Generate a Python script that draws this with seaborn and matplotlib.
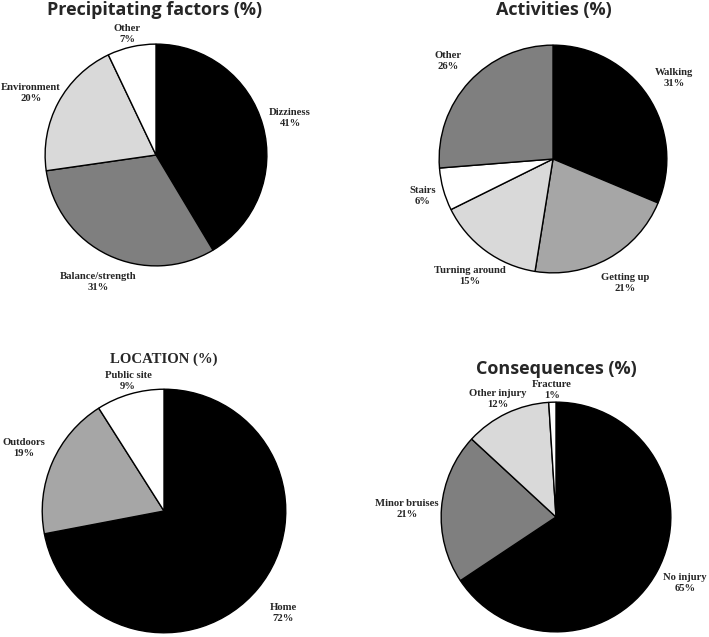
import matplotlib
matplotlib.use("Agg")
import matplotlib.pyplot as plt
import seaborn as sns

sns.set_theme(style="white")
plt.rcParams['font.family'] = ['Liberation Serif', 'DejaVu Sans']

W, H = 709, 637

# ---- data ----
p1_title = "Precipitating factors (%)"
p1_labels = ["Dizziness", "Balance/strength", "Environment", "Other"]
p1_values = [41, 31, 20, 7]

p2_title = "Activities (%)"
p2_labels = ["Walking", "Getting up", "Turning around", "Stairs", "Other"]
p2_values = [31, 21, 15, 6, 26]

p3_title = "LOCATION (%)"
p3_labels = ["Home", "Outdoors", "Public site"]
p3_values = [72, 19, 9]

p4_title = "Consequences (%)"
p4_labels = ["No injury", "Minor bruises", "Other injury", "Fracture"]
p4_values = [65, 21, 12, 1]

# ---- styling / layout ----
BLACK, DGRAY, MGRAY, LGRAY, WHITE = "#000000", "#7f7f7f", "#a6a6a6", "#d9d9d9", "#ffffff"

panels = [
    dict(title=p1_title, labels=p1_labels, values=p1_values,
         colors=[BLACK, DGRAY, LGRAY, WHITE], center=(156, 155), r=112,
         title_pos=(155, 15), title_font="sans",
         label_pos=[(290, 118), (98, 282), (31, 93), (127, 34)]),
    dict(title=p2_title, labels=p2_labels, values=p2_values,
         colors=[BLACK, MGRAY, LGRAY, WHITE, DGRAY], center=(553, 159), r=115,
         title_pos=(554, 15), title_font="sans",
         label_pos=[(674, 78), (625, 283), (470, 276), (423, 196), (448, 61)]),
    dict(title=p3_title, labels=p3_labels, values=p3_values,
         colors=[BLACK, MGRAY, WHITE], center=(164, 511), r=123,
         title_pos=(164, 363), title_font="serif",
         label_pos=[(283, 613), (24, 448), (128, 381)]),
    dict(title=p4_title, labels=p4_labels, values=p4_values,
         colors=[BLACK, DGRAY, LGRAY, WHITE], center=(556, 517), r=116,
         title_pos=(556, 374), title_font="sans",
         label_pos=[(685, 583), (407, 509), (498, 399), (552, 390)]),
]

fig = plt.figure(figsize=(W / 100, H / 100), dpi=100)
fig.patch.set_facecolor("white")

def fx(x):
    return x / W

def fy(y):
    return 1 - y / H

for p in panels:
    cx, cy = p["center"]
    r = p["r"]
    ax = fig.add_axes([(cx - r) / W, 1 - (cy + r) / H, 2 * r / W, 2 * r / H])
    ax.pie(p["values"], colors=p["colors"], startangle=90, counterclock=False,
           radius=1, wedgeprops=dict(edgecolor="black", linewidth=1.0))
    ax.set_xlim(-1.01, 1.01)
    ax.set_ylim(-1.01, 1.01)
    ax.set_aspect("equal", adjustable="box")
    ax.axis("off")
    for name, v, (lx, ly) in zip(p["labels"], p["values"], p["label_pos"]):
        fig.text(fx(lx), fy(ly), f"{name}\n{v}%", ha="center", va="center",
                 fontsize=7.7, fontweight="bold", family=["Liberation Serif"],
                 linespacing=1.25)
    tx, ty = p["title_pos"]
    if p["title_font"] == "sans":
        fig.text(fx(tx), fy(ty), p["title"], ha="center", va="baseline",
                 fontsize=13, fontweight="bold", family=["Open Sans", "DejaVu Sans"])
    else:
        fig.text(fx(tx), fy(ty), p["title"], ha="center", va="baseline",
                 fontsize=10.6, fontweight="bold", family=["Liberation Serif"])

fig.savefig("out.png", dpi=100, facecolor="white")
